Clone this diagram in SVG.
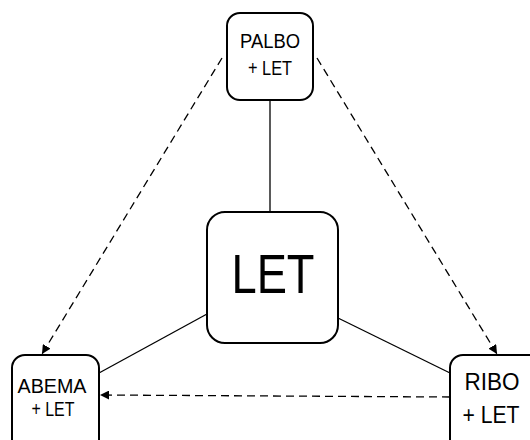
<svg xmlns="http://www.w3.org/2000/svg" width="530" height="440" viewBox="0 0 530 440">
<style>
.box{fill:#fff;stroke:#000;stroke-width:2}
.t{font-family:"Liberation Sans",Arial,sans-serif;fill:#000;text-anchor:middle}
.solid{stroke:#000;stroke-width:1.3;fill:none}
.dash{stroke:#000;stroke-width:1.3;fill:none;stroke-dasharray:8 5}
</style>
<defs>
<marker id="ah" viewBox="0 0 10 10" refX="10" refY="5" markerWidth="9" markerHeight="9" markerUnits="userSpaceOnUse" orient="auto">
<path d="M0,0 L10,5 L0,10 z" fill="#000"/>
</marker>
</defs>
<g id="connectors">
<line class="solid" x1="270" y1="100" x2="270" y2="212"/>
<line class="solid" x1="207" y1="314" x2="99" y2="373"/>
<line class="solid" x1="338" y1="318" x2="450" y2="373"/>
<line class="dash" x1="222" y1="58" x2="42" y2="354" marker-end="url(#ah)"/>
<line class="dash" x1="317" y1="58" x2="497" y2="354" marker-end="url(#ah)"/>
<line class="dash" x1="450" y1="397" x2="100" y2="395" marker-end="url(#ah)"/>
</g>
<g id="palbo">
<rect class="box" x="227" y="13" width="86" height="87" rx="13"/>
<text class="t" x="270" y="48" font-size="20" textLength="60" lengthAdjust="spacingAndGlyphs">PALBO</text>
<text class="t" x="270" y="75" font-size="20" textLength="44" lengthAdjust="spacingAndGlyphs">+ LET</text>
</g>
<g id="let">
<rect class="box" x="207" y="212" width="131" height="131" rx="18"/>
<text class="t" x="273" y="293" font-size="56" textLength="83" lengthAdjust="spacingAndGlyphs">LET</text>
</g>
<g id="abema">
<rect class="box" x="12" y="355" width="87" height="100" rx="13"/>
<text class="t" x="52" y="393" font-size="20" textLength="69" lengthAdjust="spacingAndGlyphs">ABEMA</text>
<text class="t" x="53" y="416" font-size="20" textLength="43" lengthAdjust="spacingAndGlyphs">+ LET</text>
</g>
<g id="ribo">
<rect class="box" x="450" y="355" width="100" height="100" rx="13"/>
<text class="t" x="492" y="390" font-size="24" textLength="55" lengthAdjust="spacingAndGlyphs">RIBO</text>
<text class="t" x="491" y="423" font-size="24" textLength="57" lengthAdjust="spacingAndGlyphs">+ LET</text>
</g>
</svg>
